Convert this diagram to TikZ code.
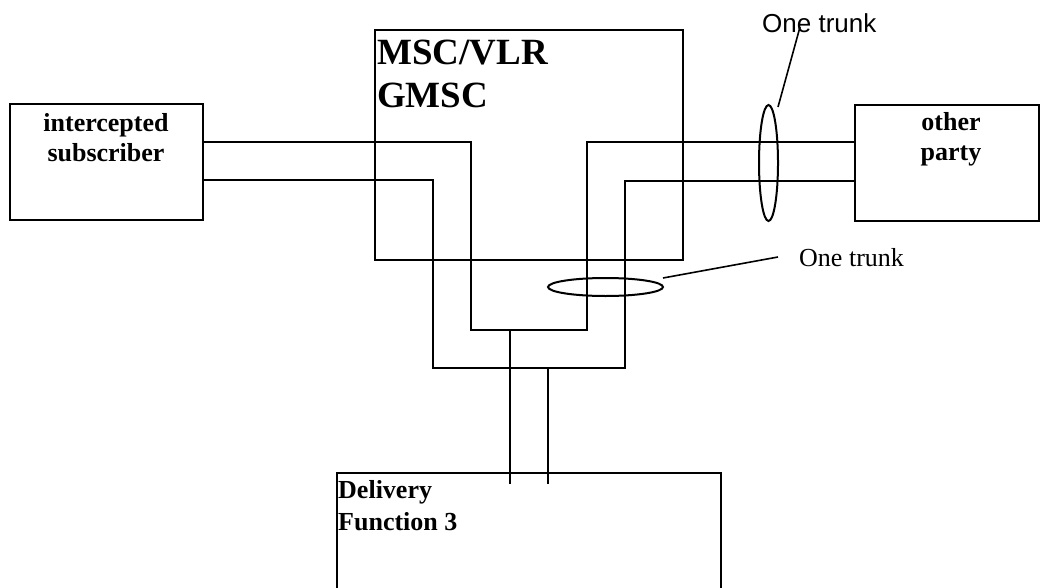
\documentclass[tikz,border=0pt]{standalone}
\usepackage{fontspec}
\setmainfont{Liberation Serif}
\newfontfamily\arialf{Liberation Sans}
\usetikzlibrary{shapes.geometric}
\tikzset{
  box/.style={draw, line width=2pt, rectangle, inner sep=0pt},
  wire/.style={line width=2pt},
  trunk/.style={draw, ellipse, line width=2pt, inner sep=0pt},
  lbl/.style={inner sep=0pt, font=\fontsize{26}{30}\selectfont\bfseries, align=center},
  bigl/.style={inner sep=0pt, font=\fontsize{37}{43}\selectfont\bfseries, align=left},
  dfl/.style={inner sep=0pt, font=\fontsize{26}{32}\selectfont\bfseries, align=left},
  note/.style={inner sep=0pt, font=\fontsize{26}{30}\selectfont},
  leader/.style={line width=1.6pt},
}
\begin{document}
\begin{tikzpicture}[x=1pt,y=-1pt]
\useasboundingbox (0,0) rectangle (1040,588);
% boxes
\node[box, minimum width=193pt, minimum height=115pt] (sub) at (106.5,162) {};
\node[box, minimum width=308pt, minimum height=230pt] (msc) at (529,145) {};
\node[box, minimum width=184pt, minimum height=115pt] (party) at (947,163) {};
\node[box, minimum width=384pt, minimum height=127pt] (df) at (529,536.5) {};
% texts (base anchor = last line's baseline)
\node[lbl, anchor=base] (subt) at (106,161.7) {intercepted\\subscriber};
\node[bigl, anchor=base west] (msct) at (377,108) {MSC/VLR\\GMSC};
\node[lbl, anchor=base] (partyt) at (951,160.5) {other\\party};
\node[dfl, anchor=base west] (dft) at (338,530) {Delivery\\Function 3};
% wires
\draw[wire] (sub.east |- 0,142) -| (471,330) -- (587,330) |- (party.west |- 0,142);
\draw[wire] (sub.east |- 0,180) -| (433,368) -- (625,368) |- (party.west |- 0,181);
\coordinate (d1) at (510,484);
\coordinate (d2) at (548,484);
\draw[wire] (510,330) -- (d1);
\draw[wire] (548,368) -- (d2);
% trunks
\node[trunk, minimum width=19pt, minimum height=116pt] (tr1) at (768.5,163) {};
\node[trunk, minimum width=115pt, minimum height=18pt] (tr2) at (605.5,287) {};
\node[note, anchor=base west, font=\fontsize{26}{30}\arialf] (n1) at (762,33) {One trunk};
\node[note, anchor=base west] (n2) at (799,266.7) {One trunk};
\coordinate (c1) at (778,107);
\coordinate (c1e) at (800,27);
\coordinate (c2) at (663,278);
\coordinate (c2e) at (778,257);
\draw[leader] (c1) -- (c1e);
\draw[leader] (c2) -- (c2e);
\end{tikzpicture}
\end{document}
